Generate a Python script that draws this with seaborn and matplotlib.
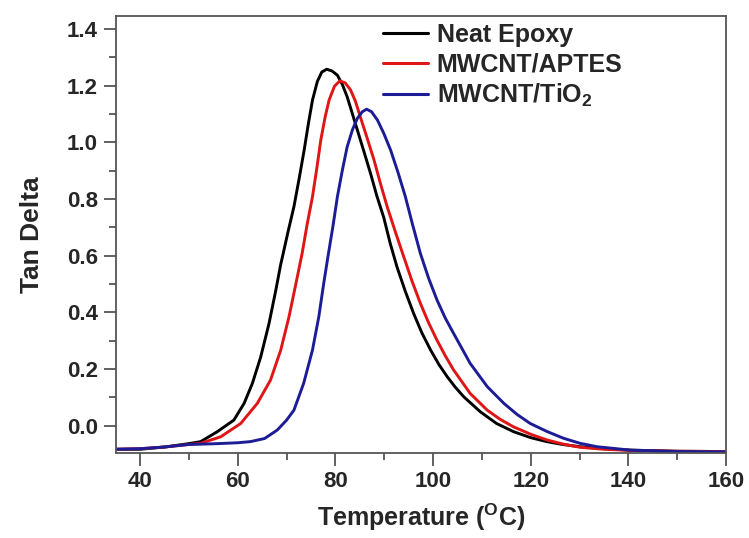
import numpy as np
import pandas as pd
import matplotlib
matplotlib.use("Agg")
import matplotlib.pyplot as plt
from matplotlib.ticker import MultipleLocator
import seaborn as sns

# ---- data ----
temp_neat = [35, 40, 45, 50, 52.4, 55.8, 59.2, 61.3, 63.0, 64.7, 66.4, 67.8, 68.8, 69.2,
             70.3, 71.5, 72.6, 73.6, 74.5, 75.3, 76.3, 77.2, 78.2, 79.3, 80.4, 81.4, 82.4,
             83.4, 84.5, 85.8, 87.2, 88.5, 89.9, 91.2, 92.6, 94.3, 96.0, 97.7, 99.5, 101.2,
             102.9, 104.6, 106.3, 109.7, 113.0, 116.5, 120.0, 123.3, 126.5, 130.1, 135.0,
             140.4, 150, 160]
tan_neat = [-0.083, -0.083, -0.075, -0.063, -0.056, -0.021, 0.02, 0.079, 0.15, 0.243, 0.361, 0.479, 0.57, 0.6,
            0.685, 0.773, 0.875, 0.973, 1.07, 1.149, 1.215, 1.248, 1.258, 1.252, 1.237, 1.205, 1.161,
            1.105, 1.043, 0.97, 0.89, 0.81, 0.735, 0.645, 0.561, 0.475, 0.397, 0.328, 0.267, 0.216,
            0.173, 0.135, 0.102, 0.049, 0.008, -0.021, -0.042, -0.056, -0.066, -0.074, -0.081,
            -0.086, -0.09, -0.091]

temp_aptes = [35, 40, 45, 50, 52.4, 56.5, 60.6, 64.0, 66.7, 68.8, 70.5, 72.2, 73.2,
              74.2, 75.3, 76.2, 77.0, 77.9, 78.7, 79.8, 80.9, 82.0, 83.1, 84.1, 85.1, 86.5,
              87.9, 89.2, 90.6, 92.3, 94.0, 95.7, 97.4, 99.1, 100.8, 102.5, 104.2, 107.6,
              111.1, 113.8, 116.5, 120.0, 123.3, 126.7, 130.1, 135.0, 140.4, 150, 160]
tan_aptes = [-0.083, -0.081, -0.075, -0.066, -0.062, -0.039, 0.008, 0.079, 0.161, 0.267, 0.385, 0.526, 0.61,
             0.71, 0.808, 0.91, 1.008, 1.09, 1.149, 1.198, 1.217, 1.21, 1.185, 1.145, 1.09, 1.015,
             0.938, 0.856, 0.773, 0.683, 0.596, 0.51, 0.432, 0.363, 0.302, 0.247, 0.197, 0.114,
             0.055, 0.022, -0.004, -0.03, -0.05, -0.065, -0.076, -0.083, -0.087, -0.09, -0.091]

temp_tio2 = [35, 40, 45, 50, 52.4, 56, 60, 62.6, 65.5, 68.1, 70.0, 71.5, 73.5, 75.3, 76.6,
             77.6, 78.5, 79.5, 80.4, 81.4, 82.4, 83.5, 84.5, 85.5, 86.4, 87.4, 88.6, 89.9,
             91.3, 92.8, 94.3, 95.8, 97.4, 99.1, 100.8, 102.5, 104.2, 107.6, 111.1, 114.5,
             117.2, 119.9, 123.3, 126.7, 130.1, 133.6, 140.4, 150, 160]
tan_tio2 = [-0.083, -0.081, -0.075, -0.066, -0.065, -0.063, -0.06, -0.056, -0.045, -0.015, 0.02, 0.055, 0.15, 0.267, 0.385,
            0.502, 0.6, 0.705, 0.808, 0.9, 0.984, 1.045, 1.085, 1.108, 1.117, 1.108, 1.079, 1.032,
            0.973, 0.895, 0.81, 0.71, 0.608, 0.52, 0.444, 0.38, 0.326, 0.22, 0.138, 0.079,
            0.04, 0.008, -0.02, -0.044, -0.062, -0.074, -0.086, -0.091, -0.092]

labels = ["Neat Epoxy", "MWCNT/APTES", "MWCNT/TiO$_2$"]
colors = ["#000000", "#e01515", "#1c1c96"]

df = pd.concat([
    pd.DataFrame({"Temperature": temp_neat, "Tan Delta": tan_neat, "Sample": labels[0]}),
    pd.DataFrame({"Temperature": temp_aptes, "Tan Delta": tan_aptes, "Sample": labels[1]}),
    pd.DataFrame({"Temperature": temp_tio2, "Tan Delta": tan_tio2, "Sample": labels[2]}),
], ignore_index=True)

sns.set_style("ticks")
plt.rcParams["font.family"] = ["Liberation Sans", "DejaVu Sans"]
plt.rcParams["mathtext.fontset"] = "custom"
plt.rcParams["mathtext.rm"] = "Liberation Sans:bold"
plt.rcParams["mathtext.bf"] = "Liberation Sans:bold"

fig = plt.figure(figsize=(7.49, 5.38), dpi=100)
ax = fig.add_axes([0.1545, 0.1586, 0.8148, 0.8117])

sns.lineplot(data=df, x="Temperature", y="Tan Delta", hue="Sample", hue_order=labels,
             palette=colors, linewidth=2.1, sort=False, estimator=None, ax=ax)

ax.set_xlim(35, 160)
ax.set_ylim(-0.095, 1.446)
ax.xaxis.set_major_locator(MultipleLocator(20))
ax.xaxis.set_minor_locator(MultipleLocator(10))
ax.yaxis.set_major_locator(MultipleLocator(0.2))
ax.yaxis.set_minor_locator(MultipleLocator(0.1))
ax.yaxis.set_major_formatter(matplotlib.ticker.FormatStrFormatter("%.1f"))

for s in ax.spines.values():
    s.set_linewidth(1.3)
    s.set_color("#555555")
ax.tick_params(which="major", length=9, width=1.3, color="#555555", labelsize=16, pad=4)
ax.tick_params(which="minor", length=5, width=1.3, color="#555555")
ax.tick_params(top=False, right=False, which="both")
for lab in ax.get_xticklabels() + ax.get_yticklabels():
    lab.set_fontweight("bold")

ax.set_xlabel("Temperature ($^{\\mathbf{O}}$C)", fontsize=18, fontweight="bold", labelpad=7)
ax.set_ylabel("Tan Delta", fontsize=19, fontweight="bold", labelpad=16)

leg = ax.legend(loc="upper left", bbox_to_anchor=(0.417, 1.013), frameon=False,
                prop={"size": 18, "weight": "bold"}, handlelength=1.8, handletextpad=0.36,
                labelspacing=0.22, borderaxespad=0.1)
for line in leg.get_lines():
    line.set_linewidth(2.2)

fig.savefig("out.png", dpi=100)
